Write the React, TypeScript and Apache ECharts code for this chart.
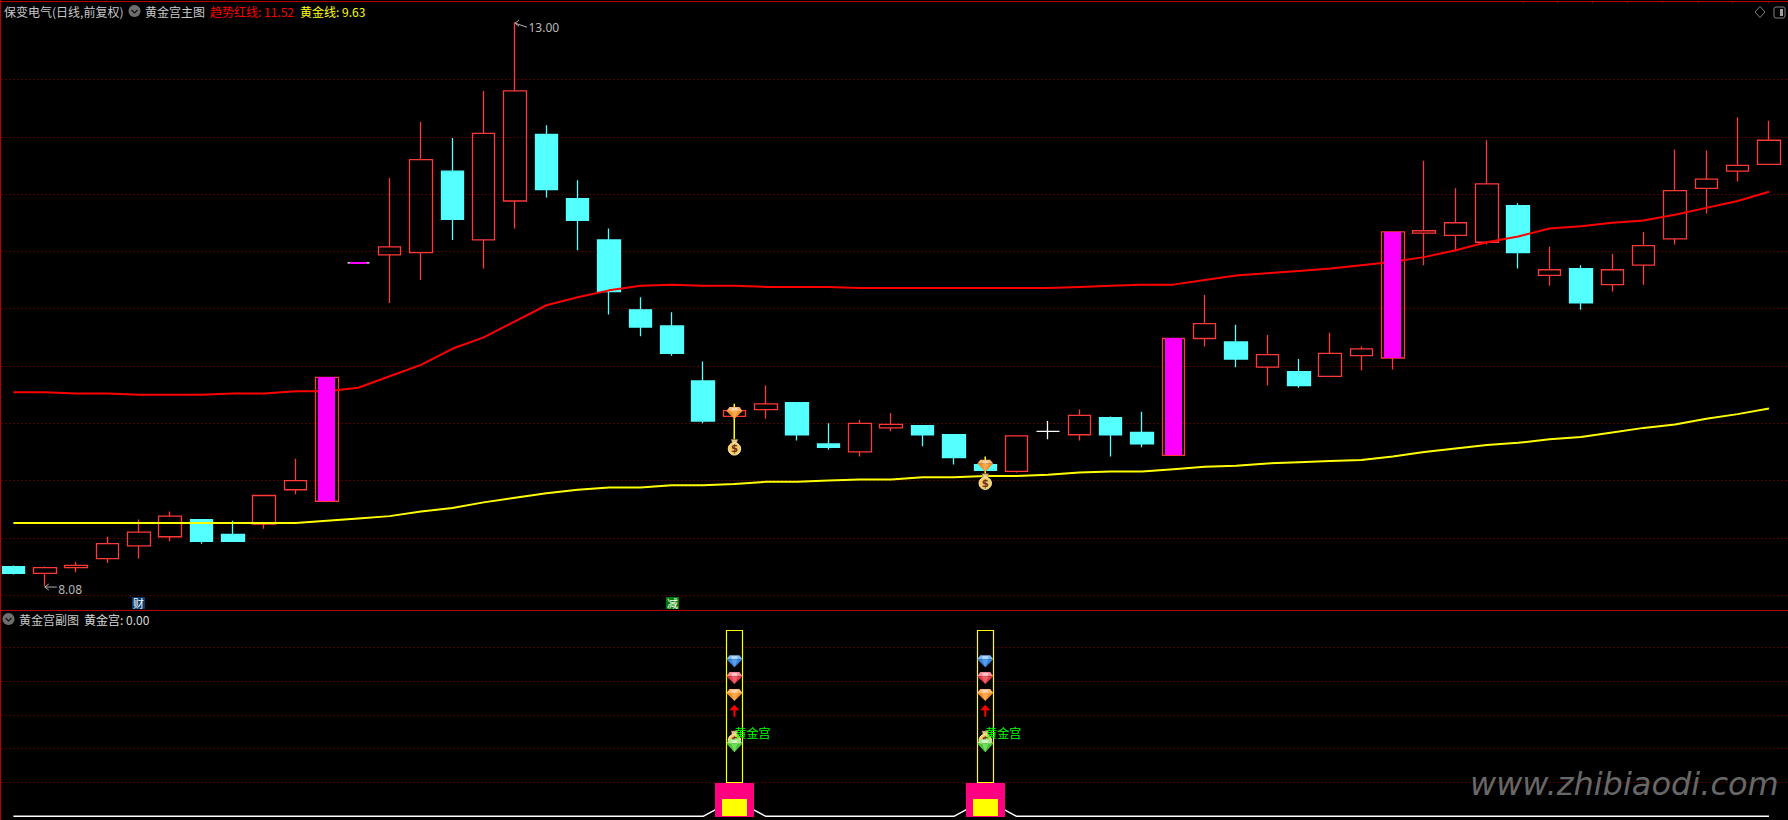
import React, { useEffect, useRef } from "react";
import * as echarts from "echarts";

const categories = Array.from({ length: 58 }, (_, i) => String(i + 1));
const opens = [8.25,8.19,8.24,8.32,8.43,8.51,8.66,8.53,8.62,8.92,8.82,10.90,10.97,10.99,11.70,11.10,11.44,12.02,11.46,11.10,10.49,10.35,9.87,9.56,9.62,9.68,9.32,9.25,9.46,9.48,9.40,9.14,9.08,9.43,9.40,9.55,9.42,9.22,10.24,10.21,9.99,9.95,9.91,10.09,10.07,11.16,11.14,11.08,11.40,10.79,10.85,10.71,10.88,11.11,11.55,11.70,11.76];
const closes = [8.19,8.24,8.26,8.45,8.55,8.69,8.47,8.47,8.87,9.00,9.90,10.90,11.04,11.80,11.28,12.03,12.40,11.54,11.27,10.65,10.34,10.11,9.52,9.61,9.67,9.40,9.29,9.50,9.49,9.40,9.20,9.09,9.39,9.43,9.57,9.40,9.32,10.24,10.37,10.06,10.10,9.83,10.11,10.15,11.17,11.18,11.25,11.59,10.99,10.84,10.55,10.84,11.05,11.53,11.63,11.75,11.97];
const lows = [8.18,8.08,8.20,8.28,8.32,8.47,8.45,8.47,8.58,8.88,8.81,10.90,10.55,10.75,11.10,10.85,11.20,11.47,11.01,10.45,10.26,10.09,9.50,9.56,9.54,9.35,9.27,9.21,9.43,9.30,9.14,9.09,9.07,9.36,9.35,9.21,9.29,9.22,10.17,9.99,9.83,9.81,9.91,9.96,9.97,10.88,11.00,11.06,10.85,10.70,10.49,10.65,10.71,11.06,11.33,11.61,11.76];
const highs = [8.26,8.25,8.29,8.51,8.66,8.73,8.66,8.65,8.87,9.19,9.90,10.90,11.64,12.13,11.99,12.40,13.00,12.10,11.62,11.20,10.60,10.47,10.04,9.61,9.83,9.68,9.50,9.53,9.59,9.48,9.40,9.14,9.39,9.52,9.62,9.56,9.60,10.24,10.62,10.36,10.27,10.06,10.29,10.17,11.17,11.79,11.55,11.97,11.42,11.04,10.88,10.98,11.17,11.89,11.88,12.17,12.14];
const trendRed = [9.77,9.77,9.76,9.76,9.75,9.75,9.75,9.76,9.76,9.78,9.78,9.81,9.91,10.01,10.15,10.25,10.39,10.53,10.60,10.66,10.70,10.71,10.70,10.70,10.69,10.69,10.69,10.68,10.68,10.68,10.68,10.68,10.68,10.68,10.69,10.70,10.71,10.71,10.75,10.79,10.81,10.83,10.85,10.88,10.91,10.95,11.01,11.08,11.13,11.20,11.22,11.25,11.27,11.32,11.38,11.44,11.52];
const goldLine = [8.63,8.63,8.63,8.63,8.63,8.63,8.63,8.63,8.63,8.63,8.65,8.67,8.69,8.73,8.76,8.81,8.85,8.89,8.92,8.94,8.94,8.96,8.96,8.97,8.99,8.99,9.00,9.01,9.01,9.03,9.03,9.04,9.04,9.05,9.07,9.08,9.08,9.10,9.12,9.13,9.15,9.16,9.17,9.18,9.21,9.25,9.28,9.31,9.33,9.36,9.38,9.42,9.46,9.49,9.54,9.58,9.63];
const whiteDojis = [11, 33];
const magentaBars = [[10, 8.82, 9.90], [11, 10.90, 10.90], [37, 9.22, 10.24], [44, 10.07, 11.17]];
const signalSticks = [[23, 9.35, 9.67], [31, 9.06, 9.21]];
const mainGems = [[23, 9.59], [31, 9.13]];
const mainBags = [[23, 9.29], [31, 8.99]];
const priceNotes = [[16, 13.0], [1, 8.08]];
const palaceLine = [0,0,0,0,0,0,0,0,0,0,0,0,0,0,0,0,0,0,0,0,0,0,0,0.5,0,0,0,0,0,0,0,0.5,0,0,0,0,0,0,0,0,0,0,0,0,0,0,0,0,0,0,0,0,0,0,0,0,0];
const palaceIdx = [23, 31];
const towerTop = 5.5;
const towerBase = 1;
const pinkTop = 1;
const innerTop = 0.5;
const blueGemValue = 4.59;
const redGemValue = 4.09;
const orangeGemValue = 3.59;
const arrowValue = 3.12;
const greenGemValue = 2.09;
const subBagValue = 2.29;
const palaceTextValue = 2.49;

const FONT = '"Noto Sans CJK SC","Noto Sans",sans-serif';

const ORANGE = { top: "#FFB670", main: "#F2902A", mid: "#FFAA50", hi: "#FFD8B0" };
const BLUE = { top: "#7AB8F6", main: "#3A82E0", mid: "#559EF0", hi: "#B8DCFF" };
const RED = { top: "#F58A94", main: "#E63C4A", mid: "#F0606C", hi: "#FFC4C8" };
const GREEN = { top: "#A4EC90", main: "#48C638", mid: "#70DC5C", hi: "#D0FAC0" };

function gemChildren(x: number, y: number, w: number, h: number, c: any) {
  const hw = w / 2;
  const top = y - h / 2;
  const belt = top + h * 0.34;
  const bottom = y + h / 2;
  const poly = (pts: number[][], fill: string) => ({ type: "polygon", shape: { points: pts }, style: { fill } });
  return [
    poly([[x - hw, belt], [x - hw * 0.62, top], [x + hw * 0.62, top], [x + hw, belt]], c.top),
    poly([[x - hw * 0.4, top + 1], [x + hw * 0.4, top + 1], [x + hw * 0.3, belt - 0.5], [x - hw * 0.3, belt - 0.5]], c.hi),
    poly([[x - hw, belt], [x + hw, belt], [x, bottom]], c.main),
    poly([[x - hw * 0.4, belt], [x + hw * 0.4, belt], [x, bottom]], c.mid),
  ];
}

function bagChildren(x: number, y: number) {
  return [
    { type: "polygon", shape: { points: [[x - 3.5, y - 8], [x + 3.5, y - 8], [x + 2, y - 3.5], [x - 2, y - 3.5]] }, style: { fill: "#E8C888", stroke: "#6B4A22", lineWidth: 0.6 } },
    { type: "circle", shape: { cx: x, cy: y + 1.5, r: 6.2 }, style: { fill: "#F4CE62", stroke: "#FFF0B8", lineWidth: 1 } },
    { type: "text", x, y: y + 1.5, style: { text: "$", fill: "#6E2C20", font: 'bold 10px "DejaVu Sans"', align: "center", verticalAlign: "middle" } },
  ];
}

function gemSeries(name: string, data: any[], c: any, xi: number, w: number, h: number) {
  return {
    type: "custom", name, xAxisIndex: xi, yAxisIndex: xi, z: 7, silent: true, data,
    renderItem: (_: any, api: any) => {
      const p = api.coord([api.value(0), api.value(1)]);
      return { type: "group", children: gemChildren(p[0], p[1], w, h, c) };
    },
  };
}

function bagSeries(name: string, data: any[], xi: number, z: number) {
  return {
    type: "custom", name, xAxisIndex: xi, yAxisIndex: xi, z, silent: true, data,
    renderItem: (_: any, api: any) => {
      const p = api.coord([api.value(0), api.value(1)]);
      return { type: "group", children: bagChildren(p[0], p[1]) };
    },
  };
}

function rangeRects(name: string, data: any[], xi: number, width: number, fill: string, z: number, stroke?: string) {
  return {
    type: "custom", name, xAxisIndex: xi, yAxisIndex: xi, z, silent: true, data,
    renderItem: (_: any, api: any) => {
      const a = api.coord([api.value(0), api.value(2)]);
      const b = api.coord([api.value(0), api.value(1)]);
      const h = Math.max(b[1] - a[1], 2);
      const off = stroke ? 0.5 : 0;
      return {
        type: "rect",
        shape: { x: Math.round(a[0] - width / 2) + off, y: Math.round(a[1] - (b[1] === a[1] ? 1 : 0)) + off, width, height: Math.round(h) },
        style: stroke ? { fill, stroke, lineWidth: 1.2 } : { fill },
      };
    },
  };
}

const candleData = opens.map((o, i) => {
  const value = [o, closes[i], lows[i], highs[i]];
  if (whiteDojis.includes(i)) {
    return { value, itemStyle: { color: "#FFFFFF", color0: "#FFFFFF", borderColor: "#FFFFFF", borderColor0: "#FFFFFF", borderColorDoji: "#FFFFFF" } };
  }
  return { value };
});

const headerItems: any[] = [
  { t: "保变电气(日线,前复权)", x: 4, y: 11, c: "#C8C8C8" },
  { t: "黄金宫主图", x: 145, y: 11, c: "#C8C8C8" },
  { t: "趋势红线: 11.52", x: 210, y: 11, c: "#FF0000" },
  { t: "黄金线: 9.63", x: 300, y: 11, c: "#FFFF00" },
  { t: "黄金宫副图", x: 19, y: 619, c: "#C8C8C8" },
  { t: "黄金宫: 0.00", x: 84, y: 619, c: "#D8D8D8" },
];

const panelRed = "#B80000";
const topTicks = [1523, 1557, 1592, 1627, 1662, 1698, 1732, 1768];

function foldIcon(x: number, y: number) {
  return [
    { type: "circle", z: 20, shape: { cx: x, cy: y, r: 6 }, style: { fill: "#6E6E6E" } },
    { type: "polyline", z: 21, shape: { points: [[x - 3, y - 1], [x, y + 2], [x + 3, y - 1]] }, style: { stroke: "#111", lineWidth: 1.2, fill: "none" } },
  ];
}

function tag(x: number, y: number, w: number, h: number, bg: string, t: string) {
  return [
    { type: "rect", z: 20, shape: { x, y, width: w, height: h }, style: { fill: bg } },
    { type: "text", z: 21, x: x + w / 2, y: y + h / 2, style: { text: t, fill: "#FFFFFF", font: `11px ${FONT}`, align: "center", verticalAlign: "middle" } },
  ];
}

const graphics: any[] = [
  { type: "rect", z: 10, shape: { x: 0, y: 1, width: 1788, height: 1 }, style: { fill: panelRed } },
  { type: "rect", z: 10, shape: { x: 0, y: 0, width: 1, height: 820 }, style: { fill: panelRed } },
  { type: "rect", z: 10, shape: { x: 0, y: 610, width: 1788, height: 1 }, style: { fill: panelRed } },
  ...topTicks.map((x) => ({ type: "rect", z: 10, shape: { x, y: 1, width: 1, height: 2 }, style: { fill: panelRed } })),
  ...headerItems.map((h) => ({ type: "text", z: 20, x: h.x, y: h.y, style: { text: h.t, fill: h.c, font: `12px ${FONT}`, align: "left", verticalAlign: "middle" } })),
  ...foldIcon(134.5, 11),
  ...foldIcon(8.5, 619),
  ...tag(132, 597, 13, 12, "#0A3A70", "财"),
  ...tag(666, 597, 13, 12, "#007A00", "减"),
  { type: "polygon", z: 20, shape: { points: [[1760, 6.5], [1765, 12], [1760, 17.5], [1755, 12]] }, style: { fill: "none", stroke: "#808080", lineWidth: 1 } },
  { type: "rect", z: 20, shape: { x: 1774, y: 7, width: 11, height: 11, r: 2 }, style: { fill: "none", stroke: "#808080", lineWidth: 1 } },
  { type: "rect", z: 20, shape: { x: 1780, y: 9, width: 3, height: 7 }, style: { fill: "#A0A0A0" } },
  { type: "text", z: 15, x: 1470, y: 784, style: { text: "www.zhibiaodi.com", fill: "#686868", font: 'italic 32px "DejaVu Sans"', align: "left", verticalAlign: "middle", shadowColor: "#333333", shadowBlur: 4, shadowOffsetY: 2 } },
];

const gridDots = { color: "#A80000", width: 1, type: [1, 3] };

const option: any = {
  animation: false,
  backgroundColor: "#000000",
  grid: [
    { left: -2.27, top: 22.2, width: 1818.3, height: 573, outerBoundsMode: "none" },
    { left: -2.27, top: 613.5, width: 1818.3, height: 202.8, outerBoundsMode: "none" },
  ],
  xAxis: [0, 1].map((gridIndex) => ({ type: "category", gridIndex, data: categories, show: false, boundaryGap: true })),
  yAxis: [
    {
      type: "value", gridIndex: 0, min: 8, max: 13, interval: 0.5, axisLine: { show: false }, axisTick: { show: false }, axisLabel: { show: false },
      splitLine: { show: true, showMaxLine: false, lineStyle: gridDots },
    },
    {
      type: "value", gridIndex: 1, min: 0, max: 6, interval: 1, axisLine: { show: false }, axisTick: { show: false }, axisLabel: { show: false },
      splitLine: { show: true, showMaxLine: false, showMinLine: false, lineStyle: gridDots },
    },
  ],
  graphic: graphics,
  series: [
    {
      type: "candlestick", name: "K线", xAxisIndex: 0, yAxisIndex: 0, z: 2, barWidth: 23, silent: true, data: candleData,
      itemStyle: { color: "transparent", color0: "#54FFFF", borderColor: "#FF3838", borderColor0: "#54FFFF", borderColorDoji: "#FF3838", borderWidth: 1.3 },
    },
    { type: "line", name: "趋势红线", xAxisIndex: 0, yAxisIndex: 0, z: 3, data: trendRed, symbol: "none", silent: true, lineStyle: { color: "#FF0000", width: 2 } },
    { type: "line", name: "黄金线", xAxisIndex: 0, yAxisIndex: 0, z: 3, data: goldLine, symbol: "none", silent: true, lineStyle: { color: "#FFFF00", width: 2 } },
    rangeRects("涨停", magentaBars, 0, 17, "#FF00FF", 4),
    {
      type: "custom", name: "信号线", xAxisIndex: 0, yAxisIndex: 0, z: 5, silent: true, data: signalSticks,
      renderItem: (_: any, api: any) => {
        const a = api.coord([api.value(0), api.value(2)]);
        const b = api.coord([api.value(0), api.value(1)]);
        return { type: "rect", shape: { x: Math.round(a[0]) - 0.5, y: a[1], width: 1.5, height: b[1] - a[1] }, style: { fill: "#FFFF00" } };
      },
    },
    gemSeries("钻石", mainGems, ORANGE, 0, 16, 12),
    bagSeries("钱袋", mainBags, 0, 7),
    {
      type: "custom", name: "极值", xAxisIndex: 0, yAxisIndex: 0, z: 6, silent: true, data: priceNotes,
      renderItem: (_: any, api: any) => {
        const p = api.coord([api.value(0), api.value(1)]);
        const x = p[0];
        const y = p[1] + 1;
        const isHigh = api.value(1) > 10;
        const drop = isHigh ? 4 : 0;
        return {
          type: "group",
          children: [
            { type: "polyline", shape: { points: [[x + 4, y - 3], [x, y], [x + 4, y + 3]] }, style: { stroke: "#B0B0B0", lineWidth: 1, fill: "none" } },
            { type: "line", shape: { x1: x, y1: y, x2: x + 12, y2: y + drop }, style: { stroke: "#B0B0B0", lineWidth: 1 } },
            { type: "text", x: x + 13.5, y: y + 2 + (isHigh ? 2 : 0), style: { text: api.value(1).toFixed(2), fill: "#B8B8B8", font: '12px "Noto Sans"', align: "left", verticalAlign: "middle" } },
          ],
        };
      },
    },
    { type: "line", name: "黄金宫", xAxisIndex: 1, yAxisIndex: 1, z: 2, data: palaceLine, symbol: "none", silent: true, lineStyle: { color: "#FFFFFF", width: 1.5 } },
    rangeRects("外框", palaceIdx.map((i) => [i, towerBase, towerTop]), 1, 16, "#000000", 3, "#FFFF00"),
    rangeRects("底座", palaceIdx.map((i) => [i, 0, pinkTop]), 1, 39, "#FF0080", 4),
    rangeRects("内芯", palaceIdx.map((i) => [i, 0, innerTop]), 1, 25, "#FFFF00", 5),
    gemSeries("蓝钻", palaceIdx.map((i) => [i, blueGemValue]), BLUE, 1, 16, 12),
    gemSeries("红钻", palaceIdx.map((i) => [i, redGemValue]), RED, 1, 16, 12),
    gemSeries("橙钻", palaceIdx.map((i) => [i, orangeGemValue]), ORANGE, 1, 16, 12),
    bagSeries("宫钱袋", palaceIdx.map((i) => [i, subBagValue]), 1, 6),
    gemSeries("绿钻", palaceIdx.map((i) => [i, greenGemValue]), GREEN, 1, 16, 13),
    {
      type: "custom", name: "箭头", xAxisIndex: 1, yAxisIndex: 1, z: 7, silent: true, data: palaceIdx.map((i) => [i, arrowValue]),
      renderItem: (_: any, api: any) => {
        const p = api.coord([api.value(0), api.value(1)]);
        const x = p[0];
        const y = p[1];
        return {
          type: "polygon",
          shape: { points: [[x, y - 6], [x + 5, y - 0.5], [x + 1, y - 0.5], [x + 1, y + 6], [x - 1, y + 6], [x - 1, y - 0.5], [x - 5, y - 0.5]] },
          style: { fill: "#FF0000" },
        };
      },
    },
    {
      type: "custom", name: "标签", xAxisIndex: 1, yAxisIndex: 1, z: 8, silent: true, data: palaceIdx.map((i) => [i, palaceTextValue]),
      renderItem: (_: any, api: any) => {
        const p = api.coord([api.value(0), api.value(1)]);
        return { type: "text", x: p[0], y: p[1], style: { text: "黄金宫", fill: "#00FF00", font: `12px ${FONT}`, align: "left", verticalAlign: "middle" } };
      },
    },
  ],
};

export default function App() {
  const ref = useRef<HTMLDivElement>(null);
  useEffect(() => {
    const chart = echarts.init(ref.current!, undefined, { renderer: "svg" });
    chart.setOption(option);
    return () => chart.dispose();
  }, []);
  return <div ref={ref} style={{ position: "absolute", left: 0, top: 0, width: 1788, height: 820, background: "#000" }} />;
}
